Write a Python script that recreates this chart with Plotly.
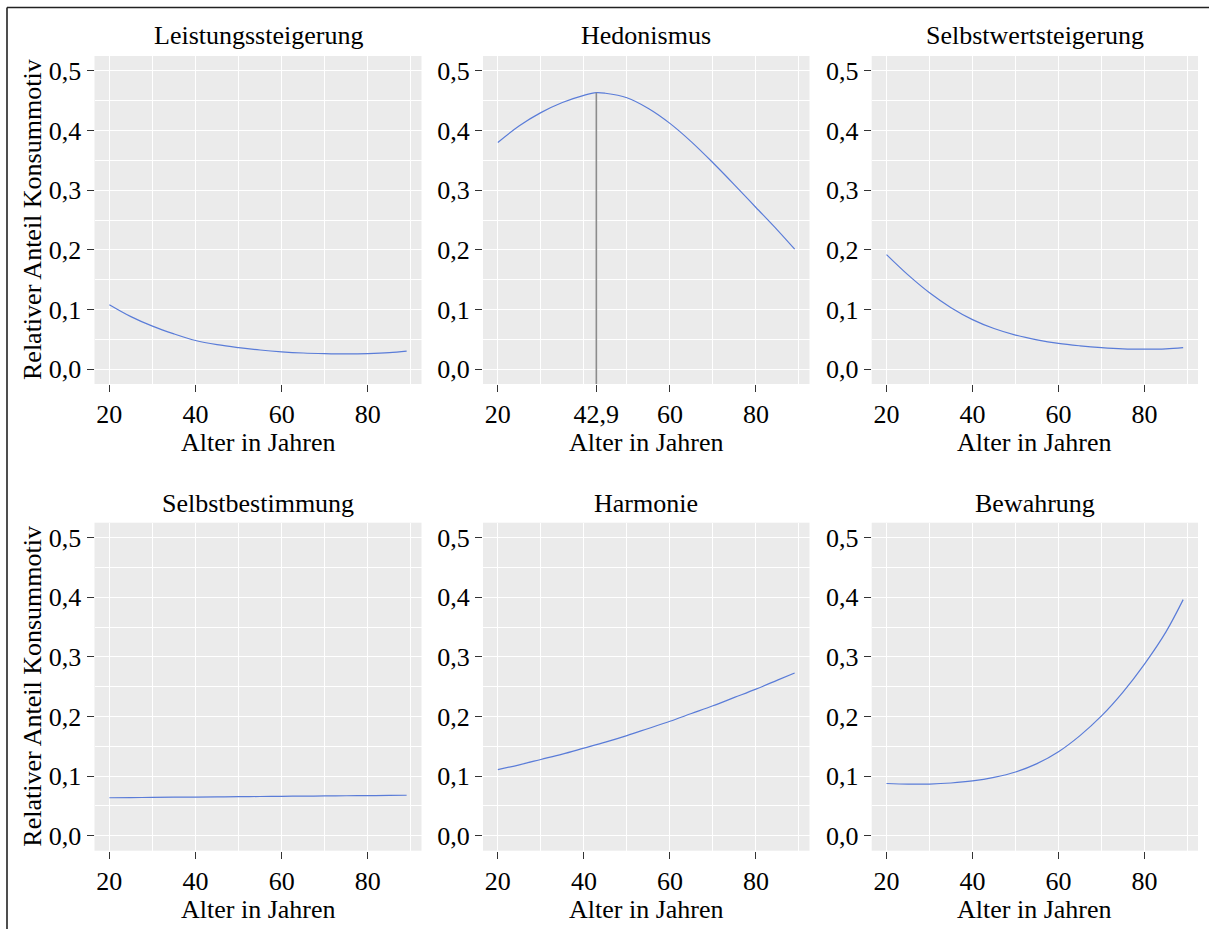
import plotly.graph_objects as go

# Age grid (years) at which the fitted shares are shown
ages = [20, 25, 30, 35, 40, 45, 50, 55, 60, 65, 70, 75, 80, 85, 89]
hed_ages = [20, 25, 30, 35, 40, 42.9, 45, 50, 55, 60, 65, 70, 75, 80, 85, 89]

# Relative share of each consumption motive by age
leistung = [0.108, 0.088, 0.072, 0.059, 0.048, 0.041, 0.036, 0.032, 0.029,
            0.027, 0.026, 0.0255, 0.026, 0.0275, 0.030]
hedonismus = [0.380, 0.408, 0.430, 0.447, 0.459, 0.4635, 0.4625, 0.455, 0.437,
              0.412, 0.381, 0.346, 0.309, 0.271, 0.233, 0.201]
selbstwert = [0.192, 0.158, 0.128, 0.103, 0.083, 0.068, 0.057, 0.049, 0.043,
              0.039, 0.036, 0.034, 0.0335, 0.034, 0.036]
selbstbest = [0.0638, 0.0641, 0.0644, 0.0647, 0.0650, 0.0653, 0.0656, 0.0659,
              0.0662, 0.0665, 0.0668, 0.0671, 0.0674, 0.0677, 0.0680]
harmonie = [0.111, 0.119, 0.128, 0.137, 0.147, 0.157, 0.168, 0.180, 0.192,
            0.205, 0.218, 0.232, 0.246, 0.261, 0.273]
bewahrung = [0.0877, 0.0866, 0.0868, 0.0885, 0.092, 0.098, 0.107, 0.121, 0.141,
             0.168, 0.201, 0.241, 0.288, 0.342, 0.396]

titles = ["Leistungssteigerung", "Hedonismus", "Selbstwertsteigerung",
          "Selbstbestimmung", "Harmonie", "Bewahrung"]
peak_age = 42.9

y_ticks = [0.0, 0.1, 0.2, 0.3, 0.4, 0.5]
y_tick_text = ["0,0", "0,1", "0,2", "0,3", "0,4", "0,5"]
y_minor = [0.05, 0.15, 0.25, 0.35, 0.45]
x_ticks = [20, 40, 60, 80]
x_tick_text = ["20", "40", "60", "80"]
x_minor = [30, 50, 70, 90]
hed_x_ticks = [20, 42.9, 60, 80]
hed_x_tick_text = ["20", "42,9", "60", "80"]

x_title = "Alter in Jahren"
y_title = "Relativer Anteil Konsummotiv"

W, H = 1209, 929
FONT = "Liberation Serif, Times New Roman, serif"
FS = 26
LINE_COLOR = "#5a7cd8"
BG = "#EBEBEB"

x_range = [16.55, 92.45]
y_range = [-0.025, 0.525]

# Panel placement in pixels (left, right) and (top, bottom)
col_px = [(94.5, 421.5), (483, 809.5), (871.7, 1198)]
row_px = [(56, 384), (522.7, 850.7)]


def px_x(v):
    return v / W


def px_y(v):
    return 1 - v / H


series = [(ages, leistung), (hed_ages, hedonismus), (ages, selbstwert),
          (ages, selbstbest), (ages, harmonie), (ages, bewahrung)]

fig = go.Figure()
layout = {}
annotations = []

tickfont = dict(family=FONT, size=FS, color="black")

for i, ((xs, ys), title) in enumerate(zip(series, titles)):
    r, c = divmod(i, 3)
    n = i + 1
    xa = "xaxis" if n == 1 else f"xaxis{n}"
    ya = "yaxis" if n == 1 else f"yaxis{n}"
    xref = "x" if n == 1 else f"x{n}"
    yref = "y" if n == 1 else f"y{n}"
    xd = [px_x(col_px[c][0]), px_x(col_px[c][1])]
    yd = [px_y(row_px[r][1]), px_y(row_px[r][0])]

    is_hed = title == "Hedonismus"
    layout[xa] = dict(
        domain=xd, anchor=yref, range=x_range, tickvals=x_ticks,
        ticktext=x_tick_text, showgrid=True, gridcolor="white", gridwidth=1.3,
        ticks="" if is_hed else "outside", ticklen=7, tickwidth=1.3,
        tickcolor="#333333", showticklabels=not is_hed, tickfont=tickfont,
        zeroline=False, showline=False,
        minor=dict(tickvals=x_minor, showgrid=True, gridcolor="white",
                   gridwidth=0.6, ticks=""),
    )
    layout[ya] = dict(
        domain=yd, anchor=xref, range=y_range, tickvals=y_ticks,
        ticktext=y_tick_text, showgrid=True, gridcolor="white", gridwidth=1.3,
        ticks="outside", ticklen=7, tickwidth=1.3, tickcolor="#333333",
        tickfont=tickfont, zeroline=False, showline=False,
        minor=dict(tickvals=y_minor, showgrid=True, gridcolor="white",
                   gridwidth=0.6, ticks=""),
    )

    fig.add_trace(go.Scatter(
        x=xs, y=ys, mode="lines", xaxis=xref, yaxis=yref,
        line=dict(color=LINE_COLOR, width=1.2, shape="spline", smoothing=1.0),
        showlegend=False, hoverinfo="x+y",
    ))

    if is_hed:
        # Separate tick axis so that the age at the maximum gets its own label
        layout["xaxis7"] = dict(
            domain=xd, anchor=yref, overlaying=xref, range=x_range,
            tickvals=hed_x_ticks, ticktext=hed_x_tick_text, showgrid=False,
            ticks="outside", ticklen=7, tickwidth=1.3, tickcolor="#333333",
            tickfont=tickfont, zeroline=False, showline=False, side="bottom",
        )
        peak_val = ys[xs.index(peak_age)]
        fig.add_trace(go.Scatter(
            x=[peak_age, peak_age], y=[y_range[0], peak_val], mode="lines",
            xaxis="x7", yaxis=yref,
            line=dict(color="#8C8C8C", width=1.6),
            showlegend=False, hoverinfo="skip",
        ))

    cx = (xd[0] + xd[1]) / 2
    title_y = 36 if r == 0 else 503
    annotations.append(dict(
        text=title, x=cx, y=px_y(title_y), xref="paper", yref="paper",
        xanchor="center", yanchor="middle", showarrow=False,
        font=dict(family=FONT, size=FS, color="black"),
    ))
    xt_y = 442 if r == 0 else 909
    annotations.append(dict(
        text=x_title, x=cx, y=px_y(xt_y), xref="paper", yref="paper",
        xanchor="center", yanchor="middle", showarrow=False,
        font=dict(family=FONT, size=FS, color="black"),
    ))
    if c == 0:
        cy = (yd[0] + yd[1]) / 2
        annotations.append(dict(
            text=y_title, x=px_x(33), y=cy, xref="paper", yref="paper",
            xanchor="center", yanchor="middle", textangle=-90,
            showarrow=False, font=dict(family=FONT, size=FS, color="black"),
        ))

# Frame lines along the top and left edge of the figure
frame = dict(color="#222222", width=1.6)
shapes = [
    dict(type="line", xref="paper", yref="paper",
         x0=px_x(7), x1=1, y0=px_y(7.5), y1=px_y(7.5), line=frame),
    dict(type="line", xref="paper", yref="paper",
         x0=px_x(7), x1=px_x(7), y0=0, y1=px_y(7.5), line=frame),
]

fig.update_layout(
    width=W, height=H,
    margin=dict(l=0, r=0, t=0, b=0),
    paper_bgcolor="white", plot_bgcolor=BG,
    annotations=annotations,
    shapes=shapes,
    **layout,
)

fig.write_html("out.html")
